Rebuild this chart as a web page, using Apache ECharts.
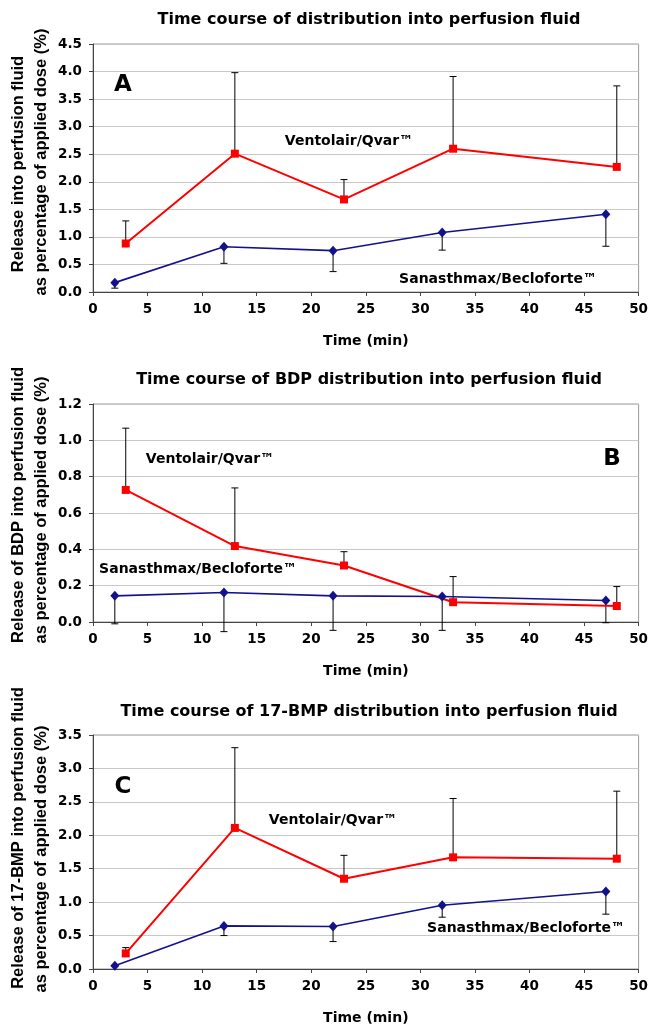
<!DOCTYPE html>
<html>
<head>
<meta charset="utf-8">
<script src="https://cdn.jsdelivr.net/npm/echarts@6/dist/echarts.min.js"></script>
<style>
html,body{margin:0;padding:0;background:#fff;}
#chart{width:651px;height:1026px;}
</style>
</head>
<body>
<div id="chart"></div>
<script>
// ---- data ----
var blueTimes = [2, 12, 22, 32, 47];
var redTimes = [3, 13, 23, 33, 48];

var titles = [
  'Time course of distribution into perfusion fluid',
  'Time course of BDP distribution into perfusion fluid',
  'Time course of 17-BMP distribution into perfusion fluid'
];
var yNamesLine1 = [
  'Release into perfusion fluid',
  'Release of BDP into perfusion fluid',
  'Release of 17-BMP into perfusion fluid'
];
var yNameLine2 = 'as percentage of applied dose (%)';
var xName = 'Time (min)';
var panelLetters = ['A', 'B', 'C'];
var redName = 'Ventolair/Qvar\u2122';
var blueName = 'Sanasthmax/Becloforte\u2122';

// Panel A
var blueA = [0.17, 0.82, 0.75, 1.08, 1.41];
var blueErrA = [0.07, 0.52, 0.37, 0.76, 0.83];
var redA = [0.88, 2.51, 1.68, 2.60, 2.27];
var redErrA = [1.29, 3.98, 2.04, 3.91, 3.74];
// Panel B
var blueB = [0.144, 0.162, 0.144, 0.140, 0.118];
var blueErrB = [-0.010, -0.053, -0.046, -0.046, -0.004];
var redB = [0.727, 0.418, 0.311, 0.109, 0.088];
var redErrB = [1.067, 0.738, 0.387, 0.250, 0.195];
// Panel C
var blueC = [0.05, 0.645, 0.636, 0.953, 1.16];
var blueErrC = [0.04, 0.50, 0.41, 0.775, 0.82];
var redC = [0.233, 2.11, 1.35, 1.67, 1.65];
var redErrC = [0.32, 3.31, 1.70, 2.55, 2.66];

// axis ranges / ticks
var xTicks = {min: 0, max: 50, interval: 5};
var yTicksA = {min: 0, max: 4.5, interval: 0.5};
var yTicksB = {min: 0, max: 1.2, interval: 0.2};
var yTicksC = {min: 0, max: 3.5, interval: 0.5};

// ---- layout / styles ----
var HFONT = '"DejaVu Sans", sans-serif';
var VFONT = '"Liberation Sans", Arial, sans-serif';
var RED = '#ff0000';
var BLUE = '#12128c';

var grids = [
  {left: 93, right: 6, top: 44, height: 248},
  {left: 93, right: 6, top: 404, height: 218},
  {left: 93, right: 6, top: 735, height: 235}
];
grids.forEach(function (g) {
  g.show = true; g.borderColor = '#999'; g.borderWidth = 1; g.backgroundColor = '#fff';
});

function pairs(xs, ys) { return xs.map(function (x, i) { return [x, ys[i]]; }); }
function triples(xs, ys, es) { return xs.map(function (x, i) { return [x, ys[i], es[i]]; }); }

function xAxisFor(i) {
  return {
    type: 'value', gridIndex: i, min: xTicks.min, max: xTicks.max, interval: xTicks.interval,
    name: xName, nameLocation: 'middle', nameGap: 42,
    nameTextStyle: {fontFamily: HFONT, fontWeight: 'bold', fontSize: 14, color: '#000'},
    axisLine: {lineStyle: {color: '#444', width: 1}},
    axisTick: {show: true, length: 4, lineStyle: {color: '#444'}},
    axisLabel: {fontFamily: HFONT, fontWeight: 'bold', fontSize: 13.5, color: '#000', margin: 10},
    splitLine: {show: false}
  };
}
function yAxisFor(i, t) {
  return {
    type: 'value', gridIndex: i, min: t.min, max: t.max, interval: t.interval,
    axisLine: {show: true, lineStyle: {color: '#444', width: 1}},
    axisTick: {show: true, length: 4, lineStyle: {color: '#444'}},
    axisLabel: {fontFamily: HFONT, fontWeight: 'bold', fontSize: 13.5, color: '#000', margin: 11,
      formatter: function (v) { return v.toFixed(1); }},
    splitLine: {show: true, lineStyle: {color: '#c8c8c8', width: 1}}
  };
}

function errSeries(i, xs, ys, es) {
  return {
    type: 'custom', xAxisIndex: i, yAxisIndex: i, z: 1, clip: false, silent: true,
    data: triples(xs, ys, es),
    renderItem: function (params, api) {
      var p0 = api.coord([api.value(0), api.value(1)]);
      var p1 = api.coord([api.value(0), api.value(2)]);
      var st = {stroke: '#000', lineWidth: 1};
      return {
        type: 'group',
        children: [
          {type: 'line', shape: {x1: p0[0], y1: p0[1], x2: p1[0], y2: p1[1]}, style: st},
          {type: 'line', shape: {x1: p1[0] - 3.5, y1: p1[1], x2: p1[0] + 3.5, y2: p1[1]}, style: st}
        ]
      };
    }
  };
}
function redLine(i, ys) {
  return {
    type: 'line', xAxisIndex: i, yAxisIndex: i, z: 3, data: pairs(redTimes, ys),
    symbol: 'rect', symbolSize: 8, showAllSymbol: true,
    lineStyle: {color: RED, width: 2}, itemStyle: {color: RED}, animation: false
  };
}
function blueLine(i, ys) {
  return {
    type: 'line', xAxisIndex: i, yAxisIndex: i, z: 3, data: pairs(blueTimes, ys),
    symbol: 'diamond', symbolSize: [9, 10], showAllSymbol: true,
    lineStyle: {color: BLUE, width: 1.6}, itemStyle: {color: BLUE}, animation: false
  };
}

function htext(str, x, y, size) {
  return {type: 'text', x: x, y: y, z: 10, silent: true,
    style: {text: str, fill: '#000', font: 'bold ' + size + 'px ' + HFONT,
      align: 'center', verticalAlign: 'middle', textAlign: 'center', textVerticalAlign: 'middle'}};
}
function vtext(str, x, y, size) {
  return {type: 'text', x: x, y: y, rotation: Math.PI / 2, z: 10, silent: true,
    style: {text: str, fill: '#000', font: 'bold ' + size + 'px ' + VFONT,
      align: 'center', verticalAlign: 'middle', textAlign: 'center', textVerticalAlign: 'middle'}};
}

var option = {
  backgroundColor: '#fff',
  animation: false,
  title: [
    {text: titles[0], top: 12},
    {text: titles[1], top: 372},
    {text: titles[2], top: 704}
  ].map(function (t) {
    t.left = 369; t.textAlign = 'center'; t.padding = 0;
    t.textStyle = {fontFamily: HFONT, fontWeight: 'bold', fontSize: 16, color: '#000'};
    return t;
  }),
  grid: grids,
  xAxis: [xAxisFor(0), xAxisFor(1), xAxisFor(2)],
  yAxis: [yAxisFor(0, yTicksA), yAxisFor(1, yTicksB), yAxisFor(2, yTicksC)],
  series: [
    errSeries(0, redTimes, redA, redErrA),
    errSeries(0, blueTimes, blueA, blueErrA),
    redLine(0, redA), blueLine(0, blueA),
    errSeries(1, redTimes, redB, redErrB),
    errSeries(1, blueTimes, blueB, blueErrB),
    redLine(1, redB), blueLine(1, blueB),
    errSeries(2, redTimes, redC, redErrC),
    errSeries(2, blueTimes, blueC, blueErrC),
    redLine(2, redC), blueLine(2, blueC)
  ],
  graphic: [
    vtext(yNamesLine1[0], 18, 164, 16.5), vtext(yNameLine2, 41, 162, 16.5),
    vtext(yNamesLine1[1], 18, 505, 16.5), vtext(yNameLine2, 41, 510, 16.5),
    vtext(yNamesLine1[2], 18, 838, 16.5), vtext(yNameLine2, 41, 859, 16.5),
    htext(panelLetters[0], 123, 85, 23),
    htext(panelLetters[1], 612, 459, 23),
    htext(panelLetters[2], 123, 787, 23),
    htext(redName, 349, 141, 14), htext(blueName, 498, 279, 14),
    htext(redName, 210, 459, 14), htext(blueName, 198, 569, 14),
    htext(redName, 333, 820, 14), htext(blueName, 526, 928, 14)
  ]
};

var chart = echarts.init(document.getElementById('chart'), null, {renderer: 'canvas'});
chart.setOption(option);
</script>
</body>
</html>
